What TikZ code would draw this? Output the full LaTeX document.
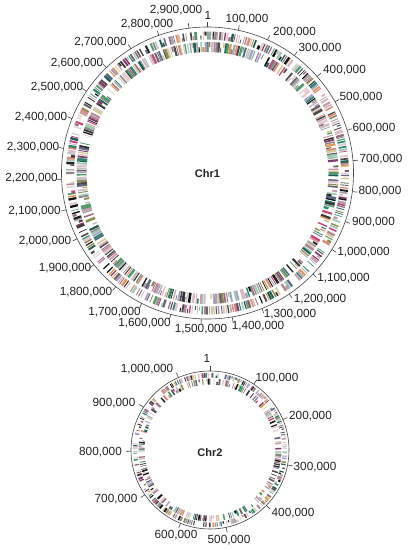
\documentclass[tikz,border=0pt]{standalone}
\usepackage{fontspec}
\setmainfont{Liberation Sans}
\definecolor{col1}{HTML}{111111}
\definecolor{col2}{HTML}{1E1C1D}
\definecolor{col3}{HTML}{3A3638}
\definecolor{col4}{HTML}{4E4A4C}
\definecolor{col5}{HTML}{6A6466}
\definecolor{col6}{HTML}{8C8688}
\definecolor{col7}{HTML}{A8A2A4}
\definecolor{col8}{HTML}{C6C0C2}
\definecolor{col9}{HTML}{D9B8C2}
\definecolor{col10}{HTML}{C89AAA}
\definecolor{col11}{HTML}{B48494}
\definecolor{col12}{HTML}{9A6A7A}
\definecolor{col13}{HTML}{E4C6CE}
\definecolor{col14}{HTML}{C4407E}
\definecolor{col15}{HTML}{7E3A6A}
\definecolor{col16}{HTML}{2A8670}
\definecolor{col17}{HTML}{4E9A6A}
\definecolor{col18}{HTML}{9CC8B4}
\definecolor{col19}{HTML}{1F5E52}
\definecolor{col20}{HTML}{8E8C50}
\definecolor{col21}{HTML}{D4CC94}
\definecolor{col22}{HTML}{E09A50}
\definecolor{col23}{HTML}{DE8A78}
\definecolor{col24}{HTML}{A6A0C4}
\definecolor{col25}{HTML}{5A6684}
\definecolor{txt}{HTML}{222222}
\tikzset{
  chrcircle/.style={draw=txt!85, line width=0.6pt},
  tickmark/.style={draw=txt!85, line width=0.6pt},
  poslabel/.style={text=txt, inner sep=0pt, font=\fontsize{11.8}{13}\selectfont},
  chrname/.style={text=txt, inner sep=1pt, font=\fontsize{11}{13}\selectfont\bfseries}
}
% #1 inner radius, #2 outer radius, #3 angular step, #4 probability (percent), #5 max width (tenths of pt)
\newcommand\genetrack[5]{%
  \foreach \ang in {0,#3,...,359.9}{%
    \pgfmathrandominteger{\q}{1}{100}%
    \ifnum\q<#4\relax
      \pgfmathrandominteger{\c}{1}{25}%
      \pgfmathrandominteger{\w}{6}{#5}%
      \pgfmathsetmacro{\lw}{\w/10}%
      \pgfmathsetmacro{\jit}{90-\ang-0.4*rnd*#3}%
      \pgfmathrandominteger{\h}{1}{12}%
      \pgfmathsetmacro{\rmid}{(#1+#2)/2}%
      \ifnum\h<11\relax
        \draw[line width=\lw pt, col\c] (\jit:#1) -- (\jit:#2);
      \else\ifnum\h<12\relax
        \draw[line width=\lw pt, col\c] (\jit:#1) -- (\jit:\rmid);
      \else
        \draw[line width=\lw pt, col\c] (\jit:\rmid) -- (\jit:#2);
      \fi\fi
    \fi
  }%
}
\begin{document}
\begin{tikzpicture}[x=1pt,y=1pt]
\useasboundingbox[fill=white] (0,0) rectangle (413,-549);
\pgfmathsetseed{2718}
% ---------------- Chr1 ----------------
\begin{scope}[shift={(207.5,-173)}]
  \genetrack{133.5}{141.5}{1.0}{88}{26}
  \genetrack{121}{131}{1.0}{86}{26}
  \draw[chrcircle] (0,0) circle (146);
  \node[chrname] (chr1) at (0,-1) {Chr1};
  \foreach \k in {0,...,29}{
    \pgfmathsetmacro{\ma}{90-\k*360/29.6}
    \draw[tickmark] (\ma:146) -- (\ma:151);
  }
\end{scope}
\foreach \x/\y/\t [count=\n] in {
  208/15/1, 247/19/{100,000}, 294.5/32/{200,000}, 320/48/{300,000},
  344.5/70/{400,000}, 361/97/{500,000}, 374/128/{600,000}, 381/159/{700,000},
  380/191/{800,000}, 373.5/222/{900,000}, 363.5/252/{1,000,000},
  343.5/278/{1,100,000}, 320/299/{1,200,000}, 290/314/{1,300,000},
  258/326/{1,400,000}, 201/329/{1,500,000}, 144.5/323/{1,600,000},
  114.5/312/{1,700,000}, 86/292/{1,800,000}, 65/268/{1,900,000},
  45/241/{2,000,000}, 34.5/211/{2,100,000}, 31.5/178/{2,200,000},
  33/147/{2,300,000}, 41/117/{2,400,000}, 57/87/{2,500,000},
  77/63/{2,600,000}, 100.5/42/{2,700,000}, 147/24/{2,800,000},
  176/10/{2,900,000}}
  \node[poslabel] (chr1lab\n) at (\x,-\y) {\t};
% ---------------- Chr2 ----------------
\begin{scope}[shift={(210,-450)}]
  \genetrack{72.5}{77}{1.5}{76}{20}
  \genetrack{65.5}{71.5}{1.5}{68}{20}
  \draw[chrcircle] (0,0) circle (79);
  \node[chrname] (chr2) at (0,-3) {Chr2};
  \foreach \k in {0,...,10}{
    \pgfmathsetmacro{\ma}{90-\k*360/10.7}
    \draw[tickmark] (\ma:79) -- (\ma:84);
  }
\end{scope}
\foreach \x/\y/\t [count=\n] in {
  207/358/1, 277/378/{100,000}, 310.5/416/{200,000}, 315/467/{300,000},
  293/513/{400,000}, 229/540/{500,000}, 176/535/{600,000},
  116/499/{700,000}, 100.5/452/{800,000}, 114/403/{900,000},
  147/369/{1,000,000}}
  \node[poslabel] (chr2lab\n) at (\x,-\y) {\t};
\end{tikzpicture}
\end{document}
